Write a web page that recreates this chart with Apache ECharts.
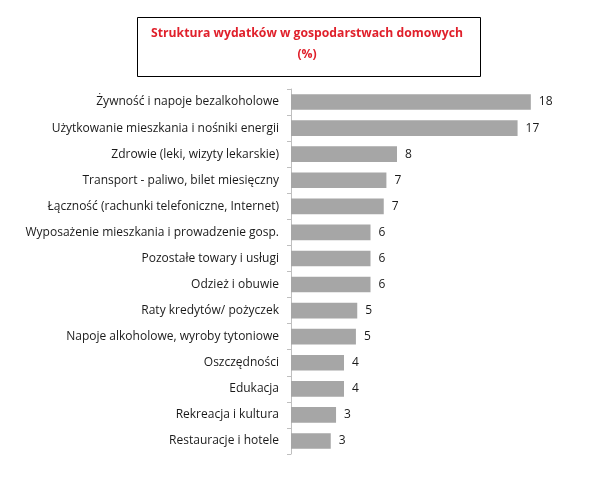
<!DOCTYPE html>
<html>
<head>
<meta charset="utf-8">
<script src="https://cdn.jsdelivr.net/npm/echarts@6/dist/echarts.min.js"></script>
<style>
html,body{margin:0;padding:0;background:#fff;}
#chart{width:597px;height:484px;}
</style>
</head>
<body>
<div id="chart"></div>
<script>
var titleText = 'Struktura wydatków w gospodarstwach domowych\n(%)';
var categories = [
  'Żywność i napoje bezalkoholowe',
  'Użytkowanie mieszkania i nośniki energii',
  'Zdrowie (leki, wizyty lekarskie)',
  'Transport - paliwo, bilet miesięczny',
  'Łączność (rachunki telefoniczne, Internet)',
  'Wyposażenie mieszkania i prowadzenie gosp.',
  'Pozostałe towary i usługi',
  'Odzież i obuwie',
  'Raty kredytów/ pożyczek',
  'Napoje alkoholowe, wyroby tytoniowe',
  'Oszczędności',
  'Edukacja',
  'Rekreacja i kultura',
  'Restauracje i hotele'
];
var values = [18.1, 17.1, 8.0, 7.2, 7.0, 6.0, 6.0, 6.0, 5.0, 4.9, 4.0, 4.0, 3.4, 3.0];

var chart = echarts.init(document.getElementById('chart'), null, {renderer:'canvas'});
chart.setOption({
  animation: false,
  backgroundColor: '#ffffff',
  title: {
    text: titleText,
    left: 307,
    top: 23,
    padding: 0,
    textAlign: 'center',
    textStyle: {
      color: '#e0202b',
      fontFamily: 'Open Sans',
      fontWeight: 'bold',
      fontSize: 12.2,
      lineHeight: 21
    }
  },
  graphic: [{
    type: 'rect',
    shape: {x: 137.5, y: 17.5, width: 343, height: 59},
    style: {fill: 'none', stroke: '#000', lineWidth: 1},
    silent: true
  }],
  grid: {left: 291, right: 41, top: 89, bottom: 30, containLabel: false},
  xAxis: {
    type: 'value',
    min: 0,
    max: 20,
    show: false
  },
  yAxis: {
    type: 'category',
    data: categories,
    inverse: true,
    axisLine: {show: true, lineStyle: {color: '#bfbfbf', width: 1}},
    axisTick: {show: true, length: 4, lineStyle: {color: '#bfbfbf'}},
    axisLabel: {
      color: '#1a1a1a',
      fontFamily: 'Open Sans',
      fontSize: 12,
      margin: 12
    }
  },
  series: [{
    type: 'bar',
    data: values,
    barCategoryGap: '40%',
    itemStyle: {color: '#a6a6a6'},
    label: {
      show: true,
      position: 'right',
      distance: 8,
      color: '#1a1a1a',
      fontFamily: 'Open Sans',
      fontSize: 12,
      formatter: function (p) { return Math.round(p.value); }
    }
  }]
});
</script>
</body>
</html>
